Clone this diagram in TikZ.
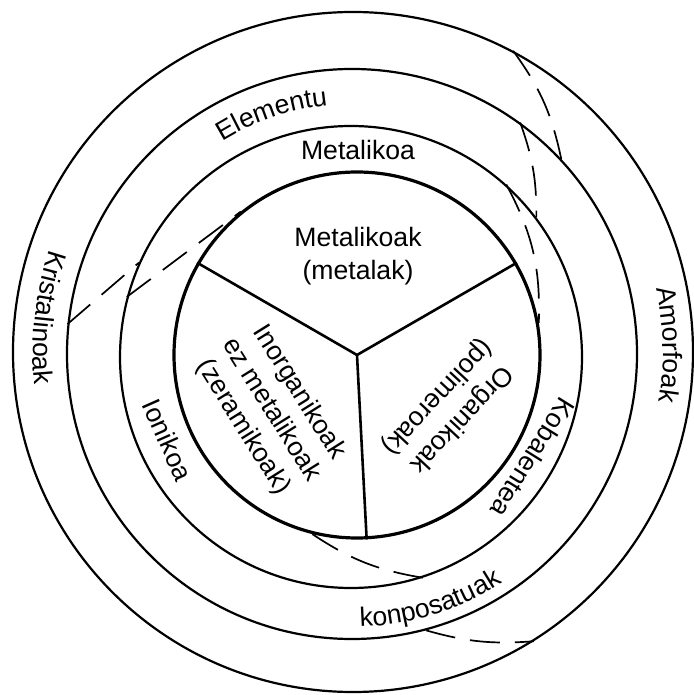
\documentclass[tikz,border=0pt]{standalone}
\usepackage{fontspec}
\setmainfont{Liberation Sans}
\usepackage{tikz}
\usetikzlibrary{positioning,decorations.text}
\newcommand{\ringfont}{\fontsize{13.3}{16.5}\selectfont}

\begin{document}
\begin{tikzpicture}[x=0.5pt, y=0.5pt, font=\ringfont]
    \tikzstyle{ring} = [circle, draw, line width=1.1pt, inner sep=0pt]
    \tikzstyle{core} = [circle, draw, line width=1.6pt, inner sep=0pt]
    \tikzstyle{spoke} = [line width=1.3pt]
    \tikzstyle{border} = [dash pattern=on 15pt off 7.5pt, line width=0.85pt]
    \tikzstyle{field} = [align=center]
    \tikzstyle{arctext} = [decorate, decoration={text along path, text align=center}]

    \useasboundingbox (-353,-343) rectangle (340,352);

    % Rings
    \node [ring, minimum size=340pt] (state) at (0,0) {};
    \node [ring, minimum size=285pt] (composition) at (-1,-2) {};
    \node [ring, minimum size=231pt] (bonding) at (-2,-5) {};
    \node [core, minimum size=183pt] (material) at (4,-3) {};

    % Material classes
    \draw [spoke] (material.150) -- (material.center) -- (material.30);
    \draw [spoke] (material.center) -- (material.-87);
    \node [field] (metalak) at (5,96) {Metalikoak\\(metalak)};
    \node [field, rotate=-58] (zeramikoak) at (-82,-58) {Inorganikoak\\ez metalikoak\\(zeramikoak)};
    \node [field, rotate=-133] (polimeroak) at (96,-56) {Organikoak\\(polimeroak)};

    % Bonding ring
    \node (metalikoa) at (5,202) {Metalikoa};
    \node [rotate=-66] (ionikoa) at (-185,-88) {Ionikoa};
    \node [rotate=-122] (kobalentea) at (180,-106) {Kobalentea};

    % Composition ring
    \path [arctext, decoration={text={|\ringfont|Elementu}}]
        (128.8:248) arc[start angle=128.8, end angle=88.8, radius=248];
    \path [arctext, decoration={text={|\ringfont|konposatuak}}]
        (-97.8:275) arc[start angle=-97.8, end angle=-47.8, radius=275];

    % State ring
    \path [arctext, decoration={text={|\ringfont|Kristalinoak}}]
        (153.6:320) arc[start angle=153.6, end angle=193.6, radius=320];
    \path [arctext, decoration={text={|\ringfont|Amorfoak}}]
        (21.3:310) arc[start angle=21.3, end angle=-18.7, radius=310];

    % Dashed borders
    \draw [border] (composition.174) -- (bonding.156);
    \draw [border] (bonding.165) -- (material.129);
    \draw [border] (state.62) to[bend left=12] (composition.43);
    \draw [border] (composition.54) to[bend left=10] (bonding.37);
    \draw [border] (bonding.48) to[bend left=15] (material.10);
    \draw [border] (material.-104) to[bend right=12] (bonding.-72);
    \draw [border] (composition.-75) to[bend right=10] (state.-58);
\end{tikzpicture}
\end{document}
